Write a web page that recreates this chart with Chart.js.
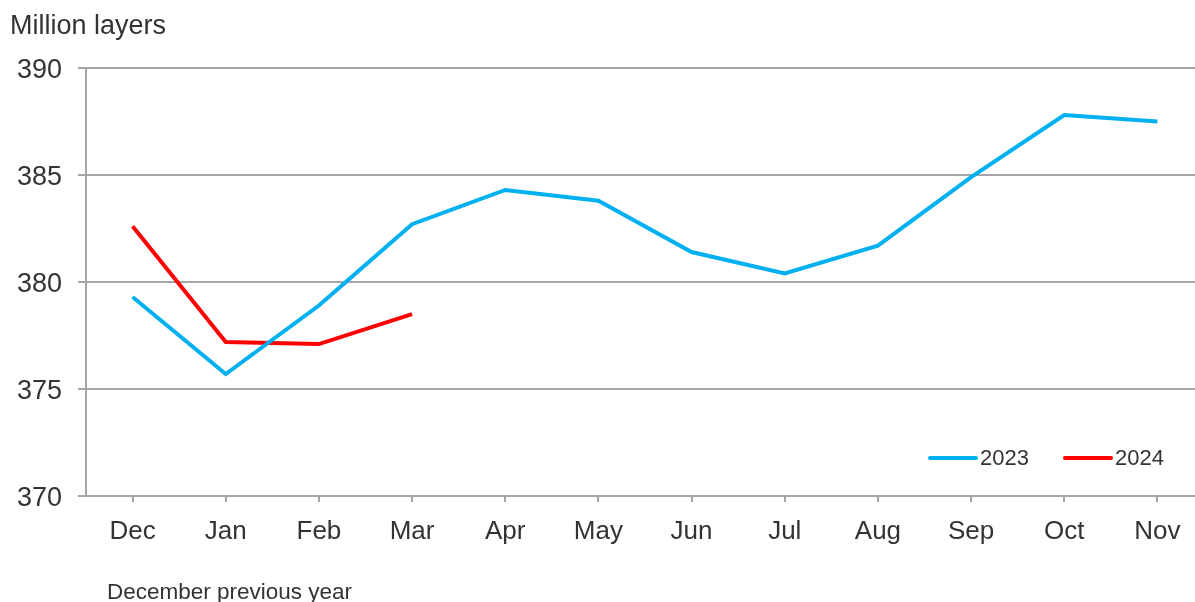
<!DOCTYPE html>
<html>
<head>
<meta charset="utf-8">
<script src="https://cdn.jsdelivr.net/npm/chart.js@4.4.1/dist/chart.umd.min.js"></script>
<style>
    html, body {
        margin: 0;
        padding: 0;
        background: #ffffff;
        overflow: hidden;
        width: 1195px;
        height: 602px;
    }

    #wrap {
        position: relative;
        width: 1204px;
        height: 602px;
    }

    .note {
        position: absolute;
        font-family: "Liberation Sans", Arial, sans-serif;
        color: #333333;
        white-space: nowrap;
    }

    #unit {
        left: 10px;
        top: 10px;
        font-size: 27px;
    }

    #foot {
        left: 107px;
        top: 579px;
        font-size: 22.5px;
    }
</style>
</head>
<body>
<div id="wrap">
    <canvas id="layersChart" width="1204" height="602"></canvas>
    <div class="note" id="unit">Million layers</div>
    <div class="note" id="foot">December previous year</div>
</div>

<script>
const months = ["Dec", "Jan", "Feb", "Mar", "Apr", "May", "Jun", "Jul", "Aug", "Sep", "Oct", "Nov"];

const layers2023 = [379.3, 375.7, 378.9, 382.7, 384.3, 383.8, 381.4, 380.4, 381.7, 384.9, 387.8, 387.5];

const layers2024 = [382.6, 377.2, 377.1, 378.5];

const yTicks = [370, 375, 380, 385, 390];

const fontFamily = "'Liberation Sans', Arial, sans-serif";

// legend sits inside the plot, bottom right
const insideLegend = {

    id: "insideLegend",

    afterDraw(chart) {

        const ctx = chart.ctx;
        const area = chart.chartArea;
        const y = area.bottom - 38;

        ctx.save();
        ctx.font = "22px " + fontFamily;
        ctx.textBaseline = "middle";

        let x = 930;

        chart.data.datasets.forEach((ds) => {

            ctx.strokeStyle = ds.borderColor;
            ctx.lineWidth = 4;
            ctx.lineCap = "round";
            ctx.beginPath();
            ctx.moveTo(x, y);
            ctx.lineTo(x + 46, y);
            ctx.stroke();

            ctx.fillStyle = "#333333";
            ctx.fillText(ds.label, x + 50, y + 1);

            x += 135;
        });

        ctx.restore();
    }
};

const ctx = document.getElementById("layersChart").getContext("2d");

new Chart(ctx, {

    type: "line",

    data: {

        labels: months,

        datasets: [
            {
                label: "2023",
                data: layers2023,
                borderColor: "#00b0f0",
                borderWidth: 4,
                pointRadius: 0,
                tension: 0,
                fill: false
            },
            {
                label: "2024",
                data: layers2024,
                borderColor: "#ff0000",
                borderWidth: 4,
                pointRadius: 0,
                tension: 0,
                fill: false
            }
        ]
    },

    options: {

        responsive: false,
        animation: false,

        layout: {
            padding: {
                top: 68,
                bottom: 46,
                left: 0,
                right: 0
            }
        },

        plugins: {
            legend: { display: false },
            tooltip: { enabled: false }
        },

        scales: {

            x: {
                offset: true,
                grid: {
                    display: true,
                    drawOnChartArea: false,
                    drawTicks: true,
                    tickLength: 6,
                    color: "#a6a6a6",
                    lineWidth: 2
                },
                border: {
                    display: true,
                    color: "#a6a6a6",
                    width: 2
                },
                ticks: {
                    color: "#333333",
                    padding: 14,
                    maxRotation: 0,
                    font: { family: fontFamily, size: 26 }
                },
                afterFit(scale) {
                    scale.height = 60;
                }
            },

            y: {
                min: 370,
                max: 390,
                afterBuildTicks(scale) {
                    scale.ticks = yTicks.map((v) => ({ value: v }));
                },
                grid: {
                    color: "#a6a6a6",
                    lineWidth: 2,
                    tickLength: 8
                },
                border: {
                    display: true,
                    color: "#a6a6a6",
                    width: 2
                },
                ticks: {
                    color: "#333333",
                    padding: 16,
                    labelOffset: 3,
                    font: { family: fontFamily, size: 27 }
                },
                afterFit(scale) {
                    scale.width = 86;
                }
            }
        }
    },

    plugins: [insideLegend]
});
</script>
</body>
</html>
